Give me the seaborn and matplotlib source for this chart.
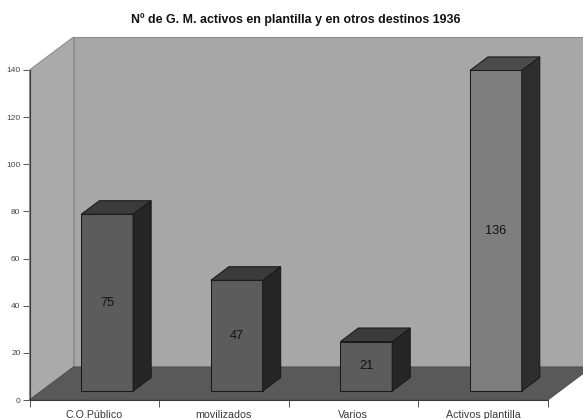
import matplotlib
matplotlib.use('Agg')
import matplotlib.pyplot as plt
from matplotlib.patches import Polygon
import pandas as pd
import seaborn as sns

categories = ['C.O.Público', 'movilizados', 'Varios', 'Activos plantilla']
values = [75, 47, 21, 136]
y_ticks = [0, 20, 40, 60, 80, 100, 120, 140]
title = 'Nº de G. M. activos en plantilla y en otros destinos 1936'

sns.set_style('white')
plt.rcParams['font.family'] = ['Liberation Sans', 'DejaVu Sans']

# 3d look, in data units
wall_dx, wall_dy = 0.34, 14.0
bar_dx, bar_dy = 0.139, 5.75
bar_shift, bar_base = 0.10, 3.8

front_cols = ['#5c5c5c', '#5c5c5c', '#5c5c5c', '#7e7e7e']
side_cols = ['#262626', '#262626', '#262626', '#2e2e2e']
top_cols = ['#3b3b3b', '#3b3b3b', '#3b3b3b', '#4b4b4b']

W, H = 583, 419
fig = plt.figure(figsize=(W / 100, H / 100), dpi=100, facecolor='white')
ax = fig.add_axes([29.5 / W, 1 - 400 / H, 518.2 / W, 330 / H])

df = pd.DataFrame({'cat': categories, 'val': values})
sns.barplot(data=df, x='cat', y='val', hue='cat', palette=front_cols, legend=False,
            width=0.4, saturation=1, edgecolor='#1a1a1a', linewidth=0.75, ax=ax, zorder=5)
ax.set_xlim(-0.5, 3.5)
ax.set_ylim(0, 140)

# walls and floor behind the bars
x0, x1 = ax.get_xlim()
far = x1 + 1
wall_kw = dict(clip_on=False, zorder=1, linewidth=0.8)
ax.add_patch(Polygon([(x0 + wall_dx, wall_dy), (far, wall_dy), (far, 140 + wall_dy), (x0 + wall_dx, 140 + wall_dy)],
                     facecolor='#a7a7a7', edgecolor='#8e8e8e', **wall_kw))
ax.add_patch(Polygon([(x0, 0), (x0 + wall_dx, wall_dy), (x0 + wall_dx, 140 + wall_dy), (x0, 140)],
                     facecolor='#aaaaaa', edgecolor='#909090', **wall_kw))
ax.add_patch(Polygon([(x0, 0), (x1, 0), (x1 + wall_dx, wall_dy), (x0 + wall_dx, wall_dy)],
                     facecolor='#595959', edgecolor='#4f4f4f', **wall_kw))

# move bars back onto the floor, add the top and side faces
for i, (patch, val) in enumerate(zip(ax.patches, values)):
    patch.set_x(patch.get_x() + bar_shift)
    patch.set_y(bar_base)
    l = patch.get_x()
    r = l + patch.get_width()
    b = bar_base
    t = bar_base + val
    face_kw = dict(edgecolor='#1a1a1a', linewidth=0.75, zorder=5, clip_on=False)
    ax.add_patch(Polygon([(r, b), (r + bar_dx, b + bar_dy), (r + bar_dx, t + bar_dy), (r, t)],
                         facecolor=side_cols[i], **face_kw))
    ax.add_patch(Polygon([(l, t), (r, t), (r + bar_dx, t + bar_dy), (l + bar_dx, t + bar_dy)],
                         facecolor=top_cols[i], **face_kw))
    ax.text((l + r) / 2, b + val / 2, str(val), ha='center', va='center',
            fontsize=9.2, color='#111111', zorder=6)

sns.despine(ax=ax)
for side in ['left', 'bottom']:
    ax.spines[side].set_color('#3a3a3a')
    ax.spines[side].set_linewidth(0.8)
    ax.spines[side].set_zorder(4)

ax.set_yticks(y_ticks)
ax.set_xticks([x0, x0 + 1, x0 + 2, x0 + 3, x1], labels=[])
ax.set_xticks(range(len(categories)), labels=categories, minor=True)
ax.tick_params(axis='y', which='major', left=True, length=5, width=0.7, color='#555555',
               labelsize=6, labelcolor='#444444', pad=1.5)
ax.tick_params(axis='x', which='major', bottom=True, length=5, width=0.7, color='#555555')
ax.tick_params(axis='x', which='minor', bottom=False, length=0, labelsize=7.7, labelcolor='#3a3a3a', pad=7)
ax.set_xlabel('')
ax.set_ylabel('')

fig.text(295.5 / W, 1 - 19.5 / H, title, ha='center', va='center', fontsize=8.9,
         fontweight='bold', color='#111111')

fig.savefig('out.png', dpi=100)
